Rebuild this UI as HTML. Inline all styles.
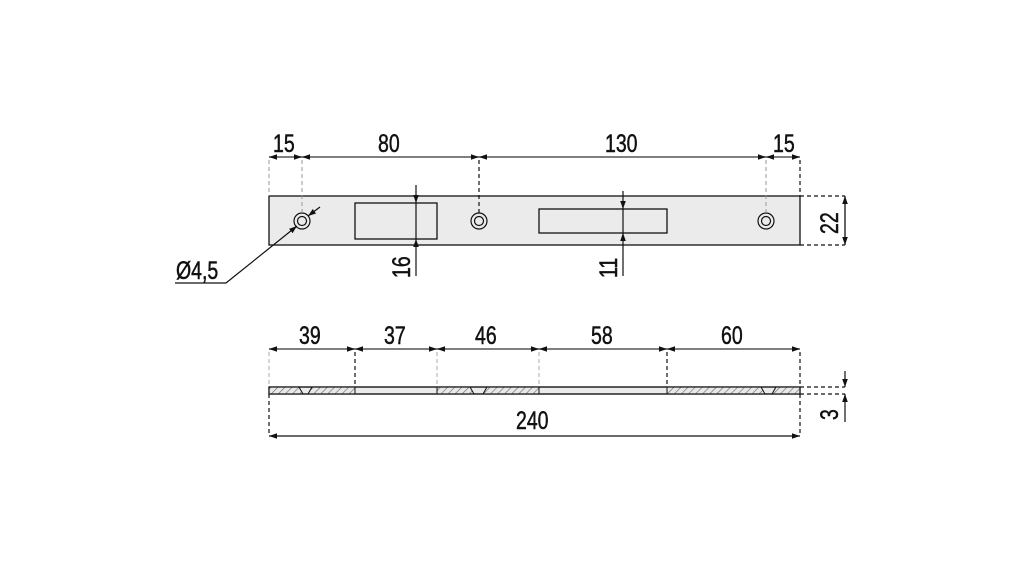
<!DOCTYPE html>
<html><head><meta charset="utf-8"><style>
html,body{margin:0;padding:0;background:#fff;}
svg{display:block}
text{font-family:"Liberation Sans",sans-serif;font-size:25px;fill:#111;stroke:#111;stroke-width:0.5px;}
</style></head><body>
<svg width="1021" height="567" viewBox="0 0 1021 567" xmlns="http://www.w3.org/2000/svg">
<defs>
<marker id="a" viewBox="0 0 10 10" refX="10" refY="5" markerWidth="8" markerHeight="8" orient="auto-start-reverse" markerUnits="userSpaceOnUse"><path d="M0,1.5 L10,5 L0,8.5 z" fill="#111"/></marker>
<pattern id="h" width="5" height="5" patternUnits="userSpaceOnUse" patternTransform="rotate(45)"><rect width="5" height="5" fill="#e8e8e8"/><line x1="0" y1="0" x2="0" y2="5" stroke="#666" stroke-width="1.2"/></pattern>
</defs>
<rect x="269" y="196" width="531" height="49" fill="#ebebeb" stroke="#111" stroke-width="1.3"/>
<rect x="355" y="203" width="82" height="36" fill="#ebebeb" stroke="#111" stroke-width="1.3"/>
<rect x="539" y="209" width="128" height="24" fill="#ebebeb" stroke="#111" stroke-width="1.3"/>
<g fill="none" stroke="#111" stroke-width="1.2">
<circle cx="302" cy="221" r="8"/><circle cx="302" cy="221" r="4.5"/>
<circle cx="479" cy="221" r="8"/><circle cx="479" cy="221" r="4.5"/>
<circle cx="766" cy="221" r="8"/><circle cx="766" cy="221" r="4.5"/>
</g>
<g stroke="#999" stroke-width="1" stroke-dasharray="4,3">
<line x1="269" y1="160" x2="269" y2="196"/><line x1="302" y1="160" x2="302" y2="213"/><line x1="766" y1="160" x2="766" y2="213"/>
</g>
<g stroke="#111" stroke-width="1.2" stroke-dasharray="4,3">
<line x1="479" y1="160" x2="479" y2="213"/><line x1="800" y1="160" x2="800" y2="196"/>
<line x1="800" y1="196" x2="845" y2="196"/><line x1="800" y1="245" x2="845" y2="245"/>
</g>
<g stroke="#555" stroke-width="1.6" marker-start="url(#a)" marker-end="url(#a)">
<line x1="269" y1="157" x2="302" y2="157"/>
<line x1="302" y1="157" x2="479" y2="157"/>
<line x1="479" y1="157" x2="766" y2="157"/>
<line x1="766" y1="157" x2="800" y2="157"/>
</g>
<line x1="845" y1="196" x2="845" y2="245" stroke="#111" stroke-width="1.3" marker-start="url(#a)" marker-end="url(#a)"/>
<g stroke="#111" stroke-width="1.2">
<line x1="416" y1="185" x2="416" y2="203" marker-end="url(#a)"/>
<line x1="416" y1="203" x2="416" y2="239"/>
<line x1="416" y1="276" x2="416" y2="239" marker-end="url(#a)"/>
<line x1="623" y1="191" x2="623" y2="209" marker-end="url(#a)"/>
<line x1="623" y1="209" x2="623" y2="233"/>
<line x1="623" y1="276" x2="623" y2="233" marker-end="url(#a)"/>
<polyline points="175,283 226,283 297,226" fill="none" marker-end="url(#a)"/>
<line x1="320" y1="207" x2="308" y2="216" marker-end="url(#a)"/>
</g>
<text x="273" y="152" transform="translate(273,0) scale(0.78,1) translate(-273,0)">15</text>
<text x="378" y="152" transform="translate(378,0) scale(0.78,1) translate(-378,0)">80</text>
<text x="605" y="152" transform="translate(605,0) scale(0.78,1) translate(-605,0)">130</text>
<text x="773" y="152" transform="translate(773,0) scale(0.78,1) translate(-773,0)">15</text>
<text x="176" y="279" transform="translate(176,0) scale(0.78,1) translate(-176,0)">Ø4,5</text>
<text transform="translate(410,278) rotate(-90) scale(0.78,1)">16</text>
<text transform="translate(617,278) rotate(-90) scale(0.78,1)">11</text>
<text transform="translate(838,234) rotate(-90) scale(0.78,1)">22</text>

<rect x="269" y="387" width="531" height="7" fill="#ebebeb" stroke="#111" stroke-width="1.2"/>
<g stroke="#111" stroke-width="1">
<polygon points="269,387 299,387 303,394 269,394" fill="url(#h)"/>
<polygon points="312,387 355,387 355,394 308,394" fill="url(#h)"/>
<polygon points="437,387 470,387 474,394 437,394" fill="url(#h)"/>
<polygon points="487,387 539,387 539,394 483,394" fill="url(#h)"/>
<polygon points="667,387 761,387 765,394 667,394" fill="url(#h)"/>
<polygon points="776,387 800,387 800,394 772,394" fill="url(#h)"/>
</g>
<rect x="269" y="387" width="531" height="7" fill="none" stroke="#111" stroke-width="1.2"/>
<g stroke="#aaa" stroke-width="1" stroke-dasharray="4,3">
<line x1="269" y1="352" x2="269" y2="387"/><line x1="437" y1="352" x2="437" y2="387"/><line x1="539" y1="352" x2="539" y2="387"/>
</g>
<g stroke="#111" stroke-width="1.2" stroke-dasharray="4,3">
<line x1="355" y1="352" x2="355" y2="387"/><line x1="667" y1="352" x2="667" y2="387"/><line x1="800" y1="352" x2="800" y2="387"/>
<line x1="269" y1="394" x2="269" y2="436"/><line x1="800" y1="394" x2="800" y2="436"/>
<line x1="800" y1="387" x2="845" y2="387"/><line x1="800" y1="394" x2="845" y2="394"/>
</g>
<g stroke="#555" stroke-width="1.6" marker-start="url(#a)" marker-end="url(#a)">
<line x1="269" y1="349" x2="355" y2="349"/>
<line x1="355" y1="349" x2="437" y2="349"/>
<line x1="437" y1="349" x2="539" y2="349"/>
<line x1="539" y1="349" x2="667" y2="349"/>
<line x1="667" y1="349" x2="800" y2="349"/>
</g>
<line x1="269" y1="436" x2="800" y2="436" stroke="#111" stroke-width="1.2" marker-start="url(#a)" marker-end="url(#a)"/>
<g stroke="#111" stroke-width="1.2">
<line x1="845" y1="371" x2="845" y2="387" marker-end="url(#a)"/>
<line x1="845" y1="422" x2="845" y2="394" marker-end="url(#a)"/>
</g>
<text x="299" y="344" transform="translate(299,0) scale(0.78,1) translate(-299,0)">39</text>
<text x="384" y="344" transform="translate(384,0) scale(0.78,1) translate(-384,0)">37</text>
<text x="475" y="344" transform="translate(475,0) scale(0.78,1) translate(-475,0)">46</text>
<text x="591" y="344" transform="translate(591,0) scale(0.78,1) translate(-591,0)">58</text>
<text x="721" y="344" transform="translate(721,0) scale(0.78,1) translate(-721,0)">60</text>
<text x="516" y="429" transform="translate(516,0) scale(0.78,1) translate(-516,0)">240</text>
<text transform="translate(838,420) rotate(-90) scale(0.78,1)">3</text>
</svg>
</body></html>
